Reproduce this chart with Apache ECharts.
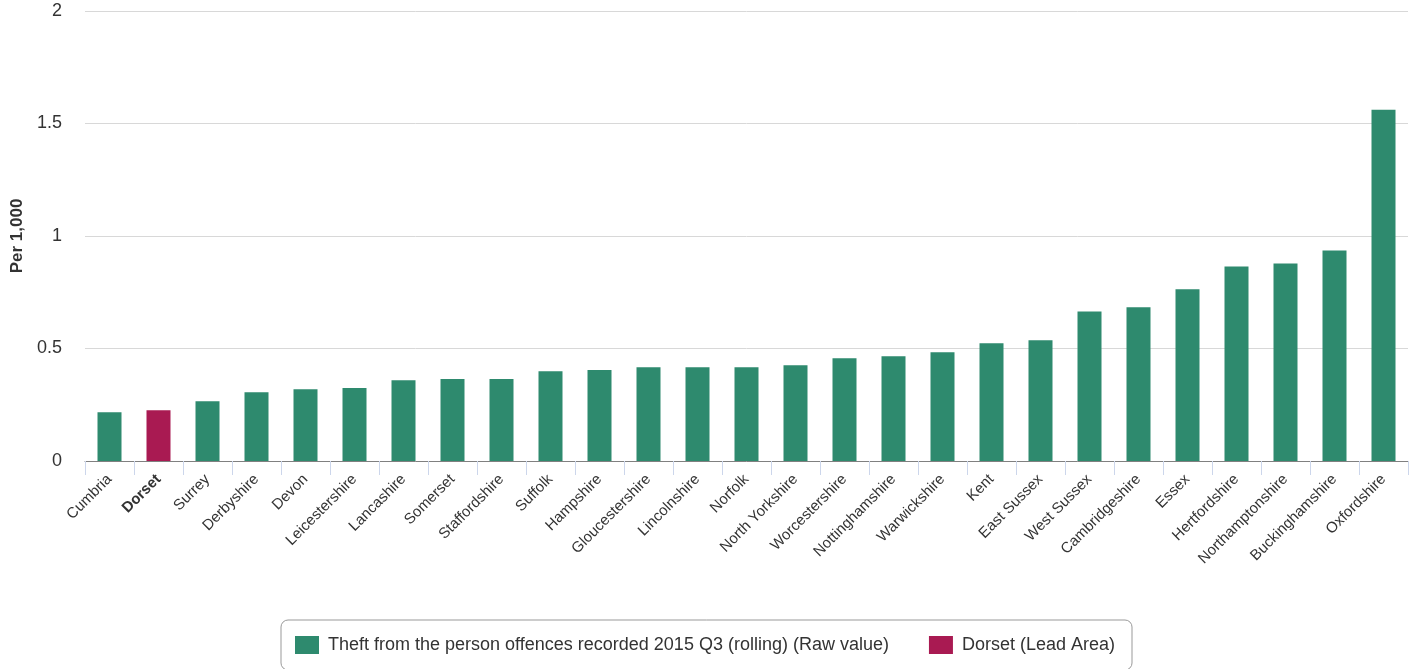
<!DOCTYPE html>
<html><head><meta charset="utf-8">
<script src="https://cdn.jsdelivr.net/npm/echarts@6/dist/echarts.min.js"></script>
<style>html,body{margin:0;padding:0;background:#fff;}#c{width:1413px;height:669px;}</style>
</head><body><div id="c"></div>
<script>
const categories = ["Cumbria","Dorset","Surrey","Derbyshire","Devon","Leicestershire","Lancashire","Somerset","Staffordshire","Suffolk","Hampshire","Gloucestershire","Lincolnshire","Norfolk","North Yorkshire","Worcestershire","Nottinghamshire","Warwickshire","Kent","East Sussex","West Sussex","Cambridgeshire","Essex","Hertfordshire","Northamptonshire","Buckinghamshire","Oxfordshire"];
const values = [0.217,0.226,0.266,0.306,0.319,0.324,0.359,0.364,0.364,0.399,0.404,0.417,0.417,0.417,0.426,0.457,0.466,0.483,0.523,0.537,0.665,0.683,0.763,0.865,0.878,0.936,1.561];
const leadArea = "Dorset";
const seriesName = "Theft from the person offences recorded 2015 Q3 (rolling) (Raw value)";
const leadName = "Dorset (Lead Area)";
const yTicks = [0, 0.5, 1, 1.5, 2];

const GREEN = '#2e8a6e', RED = '#a91a52';
const FONT = '"Liberation Sans", Arial, sans-serif';
const chart = echarts.init(document.getElementById('c'), null, {renderer:'canvas'});
const mainData = values.map((v,i)=> categories[i]===leadArea ? '-' : v);
const leadData = values.map((v,i)=> categories[i]===leadArea ? v : '-');
chart.setOption({
  animation:false,
  textStyle:{fontFamily:FONT},
  grid:{left:85,right:5,top:11,bottom:208,containLabel:false,outerBoundsMode:'none'},
  legend:{
    top:620, left:281,
    itemWidth:24,itemHeight:18,itemGap:40,
    borderColor:'#999',borderWidth:1,borderRadius:7,padding:[16,17,16,14],
    textStyle:{fontSize:18,color:'#333',fontFamily:FONT,padding:[0,0,0,4]},
    data:[{name:seriesName,icon:'rect'},{name:leadName,icon:'rect'}]
  },
  xAxis:{
    type:'category',data:categories,
    axisLine:{lineStyle:{color:'#808080',width:1}},
    axisTick:{show:true,length:14,lineStyle:{color:'#ccd6eb'}},
    axisLabel:{rotate:45,fontSize:15,color:'#333',margin:16,interval:0,fontFamily:FONT,
      formatter:function(v){return v===leadArea?'{b|'+v+'}':v;},
      rich:{b:{fontWeight:'bold',fontSize:15,color:'#333',fontFamily:FONT}}}
  },
  yAxis:{
    type:'value',min:yTicks[0],max:yTicks[yTicks.length-1],interval:0.5,
    name:'Per 1,000',nameLocation:'middle',nameGap:58,nameRotate:90,
    nameTextStyle:{fontSize:17,fontWeight:'bold',color:'#333',fontFamily:FONT},
    axisLine:{show:false},axisTick:{show:false},
    axisLabel:{fontSize:18,color:'#333',margin:23,fontFamily:FONT,padding:[4,0,0,0]},
    splitLine:{lineStyle:{color:'#d8d8d8'}}
  },
  series:[
    {name:seriesName,type:'bar',data:mainData,barWidth:24,barGap:'-100%',itemStyle:{color:GREEN}},
    {name:leadName,type:'bar',data:leadData,barWidth:24,barGap:'-100%',itemStyle:{color:RED}}
  ]
});
</script></body></html>
